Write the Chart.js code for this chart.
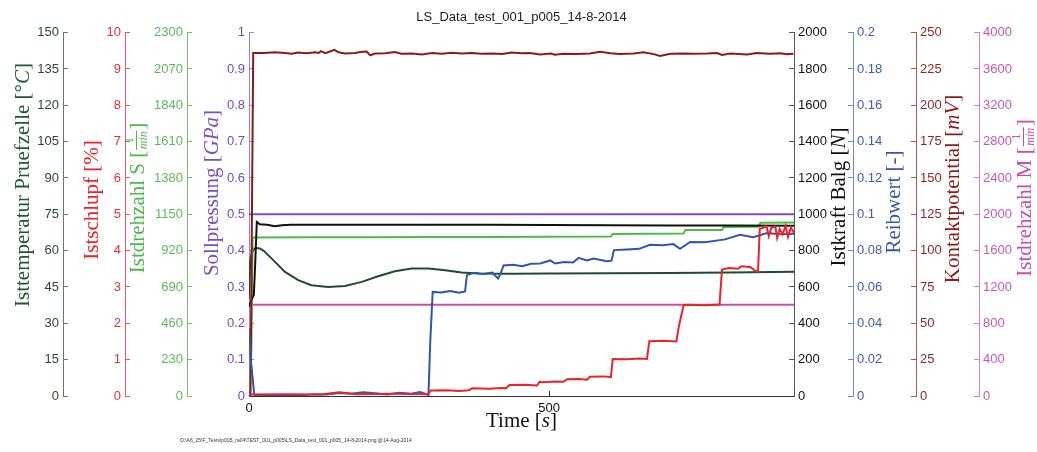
<!DOCTYPE html>
<html>
<head>
<meta charset="utf-8">
<script src="https://cdn.jsdelivr.net/npm/chart.js@4.4.0/dist/chart.umd.min.js"></script>
<style>
html, body { margin: 0; padding: 0; background: #fff; }
#wrap { width: 1037px; height: 452px; }
</style>
</head>
<body>
<div id="wrap"><canvas id="chart" width="1037" height="452"></canvas></div>
<script>
// time axis limit [s] and its labelled ticks
const timeMax = 908;
const timeTicks = [0, 500];

// Kontaktpotential [mV]
const tKontakt = [0, 2.5, 7, 26, 43, 60, 71, 82, 96, 110, 116, 120, 127, 135, 142, 149, 160, 177, 185, 196, 202, 210, 227, 243, 254, 271, 288, 305, 321, 338, 355, 371, 388, 405, 421, 438, 455, 468, 485, 502, 510, 523, 546, 568, 585, 602, 618, 641, 657, 674, 685, 702, 724, 741, 763, 780, 788, 802, 830, 846, 868, 885, 896, 907];
const kontakt = [0, 0, 236.0, 236.0, 236.5, 236.0, 235.5, 236.3, 235.8, 236.5, 236.0, 237.2, 235.8, 237.0, 238.1, 236.5, 235.6, 235.9, 236.6, 237.0, 234.4, 235.6, 235.8, 236.6, 235.4, 235.7, 235.0, 235.9, 235.4, 236.1, 235.6, 235.9, 235.4, 235.7, 235.3, 236.3, 235.8, 236.0, 235.0, 235.6, 234.8, 235.5, 235.2, 235.6, 236.8, 235.8, 235.3, 235.6, 236.4, 235.2, 234.0, 235.4, 235.7, 235.5, 235.6, 235.9, 234.6, 235.6, 235.0, 235.9, 235.4, 235.8, 235.1, 235.5];

// Sollpressung [GPa]
const tSoll = [0, 908];
const soll = [0.5, 0.5];

// Istkraft Balg [N]
const tKraft = [0, 4, 8, 10, 13, 18, 30, 43, 55, 70, 100, 200, 300, 400, 500, 600, 700, 800, 908];
const kraft = [490, 530, 555, 700, 958, 945, 942, 934, 940, 942, 943, 943, 942, 942, 941, 940, 939, 938, 937];

// Istdrehzahl S [1/min]
const tDrehS = [0, 4, 6, 100, 200, 300, 400, 500, 603, 606, 724, 727, 788, 791, 849, 852, 908];
const drehS = [0, 300, 1003, 1004, 1005, 1006, 1007, 1008, 1009, 1026, 1028, 1050, 1051, 1070, 1071, 1097, 1098];

// Isttemperatur Pruefzelle [degC]
const tTemp = [0, 2, 5, 9, 13, 18, 24, 38, 60, 82, 104, 132, 160, 188, 215, 243, 271, 299, 327, 354, 382, 438, 500, 600, 700, 800, 908];
const temp = [40, 56, 59.5, 60.8, 61.1, 60.9, 60.0, 56.7, 51.2, 47.8, 45.7, 45.0, 45.45, 47.1, 49.4, 51.5, 52.6, 52.6, 51.9, 51.0, 50.55, 50.5, 50.6, 50.7, 50.8, 51.0, 51.3];

// Istdrehzahl M [1/min]
const tDrehM = [0, 908];
const drehM = [1005, 1005];

// Reibwert [-]
const tReib = [0, 3, 9, 40, 80, 110, 130, 150, 170, 190, 210, 230, 250, 270, 285, 299, 302, 306, 320, 335, 350, 360, 363, 375, 390, 405, 415, 420, 424, 440, 455, 470, 485, 502, 510, 525, 540, 549, 563, 574, 596, 604, 608, 630, 650, 668, 690, 707, 718, 735, 760, 793, 818, 840, 863, 885, 908];
const reib = [0.037, 0.02, 0, 0.0003, 0.0002, 0.0010, 0.0008, 0.0016, 0.0012, 0.0020, 0.0015, 0.0008, 0.0018, 0.0012, 0.0022, 0.0006, 0.030, 0.0573, 0.0570, 0.0578, 0.0568, 0.0575, 0.0665, 0.0678, 0.0672, 0.068, 0.0647, 0.068, 0.0718, 0.0722, 0.0714, 0.0728, 0.0729, 0.0746, 0.0729, 0.0738, 0.0735, 0.0760, 0.0746, 0.0757, 0.0742, 0.0745, 0.0803, 0.0806, 0.0810, 0.0832, 0.0830, 0.0836, 0.0810, 0.0848, 0.0846, 0.0862, 0.0887, 0.0874, 0.0897, 0.0890, 0.0893];

// Istschlupf [%]
const tSchlupf = [0, 60, 120, 150, 180, 240, 298, 303, 330, 350, 366, 372, 400, 420, 428, 434, 460, 480, 484, 490, 510, 524, 530, 550, 563, 568, 590, 603, 606, 630, 650, 663, 667, 690, 712, 716, 724, 730, 760, 784, 788, 800, 815, 820, 835, 843, 848, 851, 857, 862, 866, 870, 877, 880, 884, 889, 894, 898, 903, 908];
const schlupf = [0.04, 0.05, 0.04, 0.10, 0.05, 0.06, 0.05, 0.15, 0.16, 0.14, 0.16, 0.21, 0.20, 0.22, 0.21, 0.30, 0.31, 0.29, 0.39, 0.38, 0.40, 0.39, 0.46, 0.47, 0.45, 0.53, 0.54, 0.52, 1.02, 1.01, 1.03, 1.02, 1.51, 1.52, 1.50, 1.90, 2.50, 2.51, 2.50, 2.52, 3.48, 3.52, 3.50, 3.57, 3.55, 3.45, 3.42, 4.60, 4.63, 4.68, 4.40, 4.62, 4.66, 4.35, 4.60, 4.45, 4.68, 4.38, 4.64, 4.48];

const chartTitle = "LS_Data_test_001_p005_14-8-2014";
const footerText = "D:\\A6_25\\F_Tests\\p005_ra04\\TEST_001_p005\\LS_Data_test_001_p005_14-8-2014.png @14-Aug-2014";

const sans = '"Liberation Sans", Arial, sans-serif';
const serif = '"Liberation Serif", "DejaVu Serif", serif';
const titleSize = 21;

function zip(ts, vs) {
    let out = [];
    for (let i = 0; i < Math.min(ts.length, vs.length); i++) {
        out.push({ x: ts[i], y: vs[i] });
    }
    return out;
}

function fmt(v) {
    return String(+v.toFixed(3));
}

function makeY(position, weight, max, step, tickColor, lineColor, width) {
    return {
        type: "linear",
        position: position,
        weight: weight,
        min: 0,
        max: max,
        border: { display: true, color: lineColor, width: 1 },
        grid: { drawOnChartArea: false, tickLength: -5, tickColor: lineColor, color: lineColor },
        ticks: {
            stepSize: step,
            includeBounds: false,
            autoSkip: false,
            color: tickColor,
            padding: 9,
            font: { family: sans, size: 13 },
            callback: fmt
        },
        afterFit: (s) => { s.width = width; }
    };
}

function line(label, data, color, axis) {
    return {
        label: label,
        data: data,
        yAxisID: axis,
        borderColor: color,
        backgroundColor: color,
        borderWidth: 2,
        pointRadius: 0,
        tension: 0,
        fill: false
    };
}

// axis titles (MATLAB style, reading bottom to top)
const yTitles = [
    { axis: "yTemp", dx: -40, cy: 185, color: "#1f5a30", parts: [["Isttemperatur Pruefzelle [", 0], ["°", 0], ["C", 1], ["]", 0]] },
    { axis: "ySchlupf", dx: -33, cy: 200, color: "#e8232a", parts: [["Istschlupf [%]", 0]] },
    { axis: "yDrehS", dx: -49, cy: 198, color: "#4cb848", parts: [["Istdrehzahl S [", 0], ["", 2], ["]", 0]] },
    { axis: "ySoll", dx: -37, cy: 193, color: "#7a4fbf", parts: [["Sollpressung [", 0], ["GPa", 1], ["]", 0]] },
    { axis: "yKraft", dx: 45, cy: 197, color: "#111111", parts: [["Istkraft Balg [", 0], ["N", 1], ["]", 0]] },
    { axis: "yReib", dx: 41, cy: 202, color: "#3558ad", parts: [["Reibwert [-]", 0]] },
    { axis: "yKontakt", dx: 37, cy: 189, color: "#8c1a1a", parts: [["Kontaktpotential [", 0], ["mV", 1], ["]", 0]] },
    { axis: "yDrehM", dx: 46, cy: 198, color: "#c64fa8", parts: [["Istdrehzahl M [", 0], ["", 2], ["]", 0]] }
];

function fontOf(italic, size) {
    return (italic ? "italic " : "") + size + "px " + serif;
}

function drawRich(ctx, parts, x, y, rot, color) {
    ctx.save();
    ctx.translate(x, y);
    ctx.rotate(rot);
    ctx.fillStyle = color;
    ctx.textBaseline = "middle";
    ctx.textAlign = "left";
    let w = parts.map((p) => {
        if (p[1] === 2) {
            ctx.font = fontOf(false, 12);
            let a = ctx.measureText("1").width;
            ctx.font = fontOf(true, 12);
            let b = ctx.measureText("min").width;
            return Math.max(a, b) + 3;
        }
        ctx.font = fontOf(p[1] === 1, titleSize);
        return ctx.measureText(p[0]).width;
    });
    let cx = -w.reduce((a, b) => a + b, 0) / 2;
    parts.forEach((p, i) => {
        if (p[1] === 2) {
            ctx.textAlign = "center";
            ctx.font = fontOf(false, 12);
            ctx.fillText("1", cx + w[i] / 2, -8);
            ctx.font = fontOf(true, 12);
            ctx.fillText("min", cx + w[i] / 2, 6);
            ctx.fillRect(cx + 1, -2, w[i] - 2, 1);
            ctx.textAlign = "left";
        } else {
            ctx.font = fontOf(p[1] === 1, titleSize);
            ctx.fillText(p[0], cx, 0);
        }
        cx += w[i];
    });
    ctx.restore();
}

const titlesPlugin = {
    id: "axisTitles",
    afterDraw(chart) {
        const ctx = chart.ctx;
        yTitles.forEach((t) => {
            const s = chart.scales[t.axis];
            const x = s.position === "left" ? s.right + t.dx : s.left + t.dx;
            drawRich(ctx, t.parts, x, t.cy, -Math.PI / 2, t.color);
        });
        const area = chart.chartArea;
        drawRich(ctx, [["Time [", 0], ["s", 1], ["]", 0]], (area.left + area.right) / 2, 421, 0, "#111111");
        ctx.save();
        ctx.font = "5px " + sans;
        ctx.fillStyle = "#333333";
        ctx.textAlign = "center";
        ctx.textBaseline = "middle";
        ctx.fillText(footerText, 296, 441);
        ctx.restore();
    }
};

const ctx = document.getElementById("chart").getContext("2d");
const chart = new Chart(ctx, {
    type: "line",
    data: {
        datasets: [
            line("Istschlupf", zip(tSchlupf, schlupf), "#e8232a", "ySchlupf"),
            line("Reibwert", zip(tReib, reib), "#2f55ac", "yReib"),
            line("Kontaktpotential", zip(tKontakt, kontakt), "#8c1a1a", "yKontakt"),
            line("Sollpressung", zip(tSoll, soll), "#7e4fc0", "ySoll"),
            line("Istkraft Balg", zip(tKraft, kraft), "#111111", "yKraft"),
            line("Istdrehzahl S", zip(tDrehS, drehS), "#4dbb47", "yDrehS"),
            line("Isttemperatur", zip(tTemp, temp), "#1e4d2b", "yTemp"),
            line("Istdrehzahl M", zip(tDrehM, drehM), "#c94faa", "yDrehM")
        ]
    },
    options: {
        responsive: false,
        animation: false,
        layout: { padding: 0 },
        plugins: {
            legend: { display: false },
            tooltip: { enabled: false },
            title: {
                display: true,
                text: chartTitle,
                fullSize: false,
                color: "#222222",
                font: { family: sans, size: 13, weight: "normal" },
                padding: { top: 10, bottom: 7 }
            }
        },
        scales: {
            x: {
                type: "linear",
                position: "bottom",
                min: 0,
                max: timeMax,
                border: { display: true, color: "#333333", width: 1 },
                grid: { drawOnChartArea: false, tickLength: -5, tickColor: "#333333", color: "#333333" },
                afterBuildTicks: (s) => { s.ticks = timeTicks.map((v) => ({ value: v })); },
                ticks: {
                    maxRotation: 0,
                    autoSkip: false,
                    color: "#111111",
                    padding: 10,
                    font: { family: sans, size: 13 },
                    callback: fmt
                },
                afterFit: (s) => { s.height = 56; }
            },
            ySoll: makeY("left", 0, 1, 0.1, "#6f4fae", "#9a80d0", 62),
            yDrehS: makeY("left", 1, 2300, 230, "#5cb85a", "#70c46a", 62),
            ySchlupf: makeY("left", 2, 10, 1, "#e53035", "#ea5a5e", 62),
            yTemp: makeY("left", 3, 150, 15, "#2e4634", "#66786a", 63),
            yKraft: makeY("right", 0, 2000, 200, "#111111", "#555555", 59),
            yReib: makeY("right", 1, 0.2, 0.02, "#3e5ea8", "#7088c4", 63),
            yKontakt: makeY("right", 2, 250, 25, "#8a2a2a", "#a85858", 63),
            yDrehM: makeY("right", 3, 4000, 400, "#c659ae", "#d682c2", 58)
        }
    },
    plugins: [titlesPlugin]
});
</script>
</body>
</html>
